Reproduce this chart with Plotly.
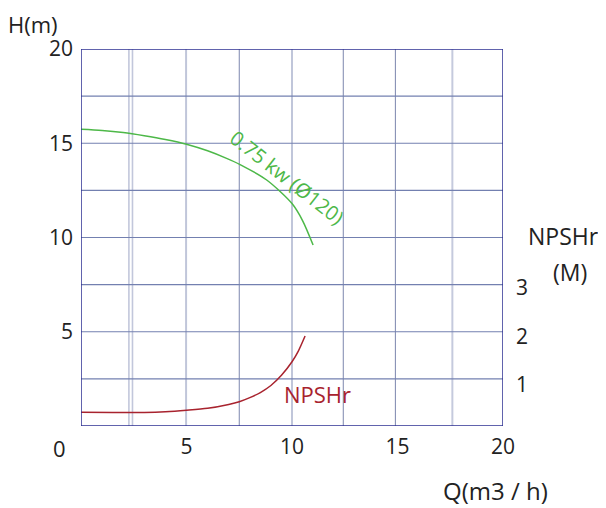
import plotly.graph_objects as go

# Data
q_head = [0, 1, 2, 3, 4, 5, 6, 6.9, 7.54, 8.8, 10.0, 10.5, 11.0]
head = [15.74, 15.68, 15.57, 15.4, 15.2, 14.95, 14.6, 14.2, 13.87, 13.05, 11.8, 10.9, 9.6]

q_npsh = [0, 1.5, 3, 4, 5, 6, 7, 7.5, 8, 8.5, 9, 9.5, 10, 10.3, 10.62]
npsh = [0.437, 0.433, 0.435, 0.45, 0.48, 0.52, 0.60, 0.656, 0.74, 0.845, 0.99, 1.2, 1.48, 1.7, 2.01]

x_ticks = [5, 10, 15, 20]
y_ticks = [5, 10, 15, 20]
npsh_ticks = [1, 2, 3]

FONT = "Open Sans"
TXT = "#222222"
GREEN = "#4db848"
RED = "#a8232e"
BORDER = "#2e3192"

fig = go.Figure()
fig.add_trace(go.Scatter(x=q_head, y=head, mode="lines",
                         line=dict(color=GREEN, width=1.5, shape="spline", smoothing=0.8),
                         showlegend=False, hoverinfo="skip"))
fig.add_trace(go.Scatter(x=q_npsh, y=npsh, mode="lines", yaxis="y2",
                         line=dict(color=RED, width=1.5, shape="spline", smoothing=0.8),
                         showlegend=False, hoverinfo="skip"))

shapes = []
vlines = [(2.27, "#c2c7db", 1.6), (2.44, "#c2c7db", 1.6), (4.98, "#c0c6da", 2),
          (7.5, "#7c86ae", 1), (10.0, "#c0c6da", 2), (12.43, "#7c86ae", 1),
          (14.9, "#7c86ae", 1), (17.6, "#c5cadd", 2)]
for xv, c, w in vlines:
    shapes.append(dict(type="line", xref="x", yref="y", x0=xv, x1=xv, y0=0, y1=20,
                       line=dict(color=c, width=w), layer="below"))
for yv in [2.5, 5, 7.5, 10, 12.5, 15, 17.5]:
    shapes.append(dict(type="line", xref="x", yref="y", x0=0, x1=20, y0=yv, y1=yv,
                       line=dict(color="#7380b0", width=1.2), layer="below"))
shapes.append(dict(type="rect", xref="x", yref="y", x0=0, x1=20, y0=0, y1=20,
                   line=dict(color=BORDER, width=1.5), layer="above"))

annotations = [
    dict(text="H(m)", xref="paper", yref="paper", x=0, xshift=-74, y=1.0, yshift=41,
         xanchor="left", yanchor="top", showarrow=False, borderpad=0,
         font=dict(family=FONT, size=22, color=TXT)),
    dict(text="0", xref="paper", yref="paper", x=0, xshift=-22, y=0, yshift=-22,
         xanchor="center", yanchor="middle", showarrow=False,
         font=dict(family=FONT, size=22, color=TXT)),
    dict(text="Q(m3 / h)", xref="paper", yref="paper", x=1.0, xshift=-8, y=0, yshift=-64,
         xanchor="center", yanchor="middle", showarrow=False,
         font=dict(family=FONT, size=24, color=TXT)),
    dict(text="NPSHr", xref="paper", yref="paper", x=1.0, xshift=60, y=0.5, yshift=2,
         xanchor="center", yanchor="middle", showarrow=False,
         font=dict(family=FONT, size=23, color=TXT)),
    dict(text="(M)", xref="paper", yref="paper", x=1.0, xshift=67, y=0.5, yshift=-34,
         xanchor="center", yanchor="middle", showarrow=False,
         font=dict(family=FONT, size=23, color=TXT)),
    dict(text="0.75 kw (Ø120)", xref="x", yref="y", x=9.76, y=13.16,
         textangle=38, showarrow=False, xanchor="center", yanchor="middle",
         font=dict(family=FONT, size=20, color=GREEN)),
    dict(text="NPSHr", xref="x", yref="y", x=11.21, y=1.71,
         showarrow=False, xanchor="center", yanchor="middle",
         font=dict(family=FONT, size=22, color=RED)),
]

fig.update_layout(
    width=598, height=500,
    margin=dict(l=73, r=103, t=41, b=82),
    paper_bgcolor="white", plot_bgcolor="white",
    font=dict(family=FONT, size=21, color=TXT),
    xaxis=dict(range=[0, 20], tickvals=x_ticks, showgrid=False, zeroline=False,
               showline=False, ticks="", ticklabelstandoff=6, automargin=False,
               tickfont=dict(family=FONT, size=21, color=TXT)),
    yaxis=dict(range=[0, 20], tickvals=y_ticks, showgrid=False, zeroline=False,
               showline=False, ticks="", ticklabelstandoff=7, automargin=False,
               tickfont=dict(family=FONT, size=21, color=TXT)),
    yaxis2=dict(range=[0.155, 7.93], tickvals=npsh_ticks, overlaying="y", side="right",
                showgrid=False, zeroline=False, showline=False, ticks="",
                ticklabelstandoff=12, automargin=False,
                tickfont=dict(family=FONT, size=21, color=TXT)),
    shapes=shapes, annotations=annotations,
)

fig.write_html("out.html")
